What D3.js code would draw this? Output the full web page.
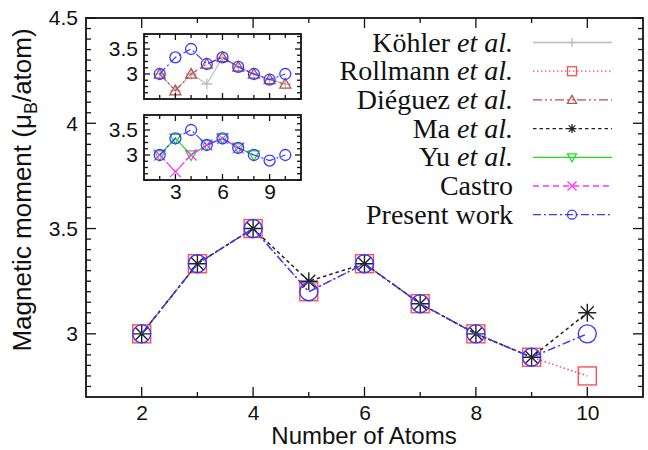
<!DOCTYPE html>
<html><head><meta charset="utf-8">
<script src="https://cdn.jsdelivr.net/npm/d3@7"></script>
<style>body{margin:0;background:#fff}svg{display:block}</style>
</head><body>
<svg id="c" width="648" height="450"></svg>
<script>
const nAtoms   = [2,3,4,5,6,7,8,9,10];
const kohler   = [3.0, 2.667, 3.0, 2.8, 3.333, 3.143, 3.0, 2.889, 2.8];
const rollmann = [3.0, 3.333, 3.5, 3.2, 3.333, 3.143, 3.0, 2.889, 2.8];
const dieguez  = [3.0, 2.667, 3.0, 3.2, 3.333, 3.143, 3.0, 2.889, 2.8];
const ma       = [3.0, 3.333, 3.5, 3.25, 3.333, 3.143, 3.0, 2.889, 3.1];
const yu       = [3.0, 3.333, 3.0, 3.2, 3.333, 3.143, 3.0];
const castro   = [3.0, 2.667, 3.0, 3.2, 3.333, 3.143];
const present  = [3.0, 3.333, 3.5, 3.2, 3.333, 3.143, 3.0, 2.889, 3.0];
const xTicksMain = [2,4,6,8,10];
const yTicksMain = [3,3.5,4,4.5];
const xTicksInset = [3,6,9];
const yTicksInset = [3,3.5];

const seriesDefs = {
  kohler:  {name:["Köhler ","et al."],   vals:kohler,   color:"#bdbdbd", dash:null,            marker:"plus"},
  rollmann:{name:["Rollmann ","et al."], vals:rollmann, color:"#ff5050", dash:"1.5,2.5",       marker:"square"},
  dieguez: {name:["Diéguez ","et al."],  vals:dieguez,  color:"#b8504c", dash:"9,3,2,3,2,3",   marker:"triup"},
  ma:      {name:["Ma ","et al."],       vals:ma,       color:"#222222", dash:"3.5,3",         marker:"star"},
  yu:      {name:["Yu ","et al."],       vals:yu,       color:"#22dd22", dash:null,            marker:"tridown"},
  castro:  {name:["Castro",""],          vals:castro,   color:"#ff33ff", dash:"6,4",           marker:"cross"},
  present: {name:["Present work",""],    vals:present,  color:"#3a3aff", dash:"8,3,2,3",       marker:"circle"}
};
const legendOrder = ["kohler","rollmann","dieguez","ma","yu","castro","present"];

const svg = d3.select("#c");
const SANS = "'Liberation Sans', Arial, Helvetica, sans-serif";
const SERIF = "'Liberation Serif', 'Times New Roman', serif";

function marker(g, type, cx, cy, s, color, sw){
  const h = s/2;
  if(type==="circle") g.append("circle").attr("cx",cx).attr("cy",cy).attr("r",h).attr("fill","none").attr("stroke",color).attr("stroke-width",sw);
  else if(type==="square") g.append("rect").attr("x",cx-h).attr("y",cy-h).attr("width",s).attr("height",s).attr("fill","none").attr("stroke",color).attr("stroke-width",sw);
  else if(type==="triup") g.append("path").attr("d",`M${cx},${cy-h}L${cx+h},${cy+h*0.75}L${cx-h},${cy+h*0.75}Z`).attr("fill","none").attr("stroke",color).attr("stroke-width",sw);
  else if(type==="tridown") g.append("path").attr("d",`M${cx},${cy+h}L${cx+h},${cy-h*0.75}L${cx-h},${cy-h*0.75}Z`).attr("fill","none").attr("stroke",color).attr("stroke-width",sw);
  else if(type==="plus") g.append("path").attr("d",`M${cx-h},${cy}H${cx+h}M${cx},${cy-h}V${cy+h}`).attr("stroke",color).attr("stroke-width",sw);
  else if(type==="cross") g.append("path").attr("d",`M${cx-h},${cy-h}L${cx+h},${cy+h}M${cx-h},${cy+h}L${cx+h},${cy-h}`).attr("stroke",color).attr("stroke-width",sw);
  else if(type==="star") g.append("path").attr("d",`M${cx-h},${cy}H${cx+h}M${cx},${cy-h}V${cy+h}M${cx-h*0.72},${cy-h*0.72}L${cx+h*0.72},${cy+h*0.72}M${cx-h*0.72},${cy+h*0.72}L${cx+h*0.72},${cy-h*0.72}`).attr("stroke",color).attr("stroke-width",sw);
}

function drawSeries(g, key, x, y, msize, lw, msw){
  const d = seriesDefs[key];
  const pts = d.vals.map((v,i)=>[nAtoms[i], v]);
  const line = d3.line().x(p=>x(p[0])).y(p=>y(p[1]));
  const p = g.append("path").attr("d", line(pts)).attr("fill","none").attr("stroke",d.color).attr("stroke-width",lw);
  if(d.dash) p.attr("stroke-dasharray", d.dash);
  pts.forEach(pt=>marker(g, d.marker, x(pt[0]), y(pt[1]), msize, d.color, msw));
}

function frameAxes(g, x, y, opt){
  const [x0,x1] = x.range(), [y0,y1] = y.range();
  const tick = (x1a,y1a,x2a,y2a)=>g.append("line").attr("x1",x1a).attr("y1",y1a).attr("x2",x2a).attr("y2",y2a).attr("stroke","#111").attr("stroke-width",1.3);
  opt.xMinor.forEach(v=>{ const L = opt.xMajor.includes(v)?opt.majLen:opt.minLen;
    tick(x(v),y0,x(v),y0-L); tick(x(v),y1,x(v),y1+L); });
  opt.yMinor.forEach(v=>{ const L = opt.yMajor.some(m=>Math.abs(m-v)<1e-6)?opt.majLen:opt.minLen;
    tick(x0,y(v),x0+L,y(v)); tick(x1,y(v),x1-L,y(v)); });
  g.append("rect").attr("x",x0).attr("y",y1).attr("width",x1-x0).attr("height",y0-y1).attr("fill","none").attr("stroke","#111").attr("stroke-width",1.8);
  const ax = g.append("g").attr("transform",`translate(${x0},0)`).call(d3.axisLeft(y).tickValues(opt.yMajor).tickSize(0).tickPadding(opt.yPad).tickFormat(d3.format("~g")));
  ax.select(".domain").remove();
  ax.selectAll("text").attr("font-family",SANS).attr("font-size",opt.fs).attr("fill","#111");
  if(opt.xLabels){
    const bx = g.append("g").attr("transform",`translate(0,${y0})`).call(d3.axisBottom(x).tickValues(opt.xLabels).tickSize(0).tickPadding(opt.xPad).tickFormat(d3.format("~g")));
    bx.select(".domain").remove();
    bx.selectAll("text").attr("font-family",SANS).attr("font-size",opt.fs).attr("fill","#111");
  }
}

// ---------- main plot ----------
const xM = d3.scaleLinear().domain([1,11]).range([86,643]);
const yM = d3.scaleLinear().domain([2.7,4.5]).range([397,18]);
const gM = svg.append("g");
const mainG = gM.append("g");
["rollmann","ma","present"].forEach(k=>drawSeries(mainG,k,xM,yM,18,1.5,1.4));
frameAxes(gM, xM, yM, {
  xMinor: d3.range(2,11,1), xMajor: xTicksMain, xLabels: xTicksMain,
  yMinor: d3.range(2.75,4.5001,0.05).map(v=>+v.toFixed(2)), yMajor: yTicksMain,
  majLen:10, minLen:5, fs:21, yPad:8, xPad:8
});
svg.append("text").attr("x",364).attr("y",444).attr("text-anchor","middle").attr("font-family",SANS).attr("font-size",24).attr("fill","#111").text("Number of Atoms");
const yl = svg.append("text").attr("transform","translate(31,190) rotate(-90)").attr("text-anchor","middle").attr("font-family",SANS).attr("font-size",26).attr("fill","#111");
yl.append("tspan").text("Magnetic moment (μ");
yl.append("tspan").attr("font-size",18).attr("dy",6).text("B");
yl.append("tspan").attr("dy",-6).text("/atom)");

// ---------- insets ----------
function inset(top, keys, xl){
  const x = d3.scaleLinear().domain([1,11]).range([144,301]);
  const y = d3.scaleLinear().domain([2.5,3.8]).range([top+65, top]);
  const g = svg.append("g");
  g.append("rect").attr("x",144).attr("y",top).attr("width",157).attr("height",65).attr("fill","#fff");
  const sg = g.append("g");
  keys.forEach(k=>drawSeries(sg,k,x,y,11,1.2,1.3));
  frameAxes(g, x, y, {
    xMinor: d3.range(2,11,1), xMajor: xTicksInset, xLabels: xl?xTicksInset:null,
    yMinor: d3.range(2.5,3.8001,0.125).map(v=>+v.toFixed(3)), yMajor: yTicksInset,
    majLen:6, minLen:4, fs:21, yPad:6, xPad:4
  });
}
inset(34, ["kohler","dieguez","present"], false);
inset(115, ["yu","castro","present"], true);

// ---------- legend ----------
const lg = svg.append("g");
legendOrder.forEach((k,i)=>{
  const d = seriesDefs[k];
  const cy = 42.5 + i*28.7;
  const t = lg.append("text").attr("x",513).attr("y",cy+9).attr("text-anchor","end").attr("font-family",SERIF).attr("font-size",28).attr("fill","#111");
  t.append("tspan").text(d.name[0]);
  if(d.name[1]) t.append("tspan").attr("font-style","italic").text(d.name[1]);
  const l = lg.append("line").attr("x1",533).attr("x2",612).attr("y1",cy).attr("y2",cy).attr("stroke",d.color).attr("stroke-width",1.3);
  if(d.dash) l.attr("stroke-dasharray",d.dash);
  marker(lg, d.marker, 572, cy, 9, d.color, 1.3);
});
</script>
</body></html>
